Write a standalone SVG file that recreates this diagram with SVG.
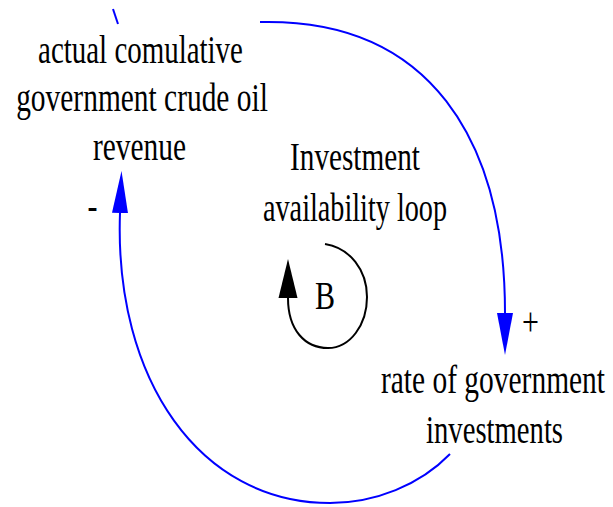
<svg xmlns="http://www.w3.org/2000/svg" width="613" height="507" viewBox="0 0 613 507">
<style>
text{font-family:'Liberation Serif','Times New Roman',serif;font-size:40px;fill:#000;text-anchor:middle}
.link{fill:none;stroke:#0000ff;stroke-width:2}
.loop{fill:none;stroke:#000;stroke-width:2}
</style>
<defs>
<marker id="ab" markerUnits="userSpaceOnUse" markerWidth="44" markerHeight="20" viewBox="0 -10 44 20" refX="0" refY="0" orient="auto">
<path d="M0,-8 L42,0 L0,8 Z" fill="#0000ff"/>
</marker>
<marker id="ak" markerUnits="userSpaceOnUse" markerWidth="42" markerHeight="22" viewBox="0 -11 42 22" refX="0" refY="0" orient="auto">
<path d="M0,-9.5 L39,0 L0,9.5 Z" fill="#000"/>
</marker>
</defs>
<g id="connectors">
<path class="link" d="M113,9 L118,24"/>
<path class="link" d="M260,22 C430,18 505,140 505,313" marker-end="url(#ab)"/>
<path class="link" d="M450,454 C420,485 375,503 330,503 C200,503 114,380 120,213" marker-end="url(#ab)"/>
</g>
<g id="node-revenue">
<text transform="translate(140.5,63) scale(0.704,1)" textLength="291" lengthAdjust="spacingAndGlyphs">actual comulative</text>
<text transform="translate(142,111) scale(0.736,1)" textLength="342" lengthAdjust="spacingAndGlyphs">government crude oil</text>
<text transform="translate(139.5,160) scale(0.735,1)" textLength="126.6" lengthAdjust="spacingAndGlyphs">revenue</text>
</g>
<g id="node-investments">
<text transform="translate(493,393) scale(0.736,1)" textLength="304.4" lengthAdjust="spacingAndGlyphs">rate of government</text>
<text transform="translate(494.5,443) scale(0.717,1)" textLength="191.1" lengthAdjust="spacingAndGlyphs">investments</text>
</g>
<g id="loop-label">
<text transform="translate(355,170) scale(0.731,1)" textLength="177.8" lengthAdjust="spacingAndGlyphs">Investment</text>
<text transform="translate(355,221) scale(0.705,1)" textLength="261" lengthAdjust="spacingAndGlyphs">availability loop</text>
</g>
<g id="loop-symbol">
<path class="loop" d="M325,244 C350,248 367,270 367,297 C367,325 350,348 328,348 C305,348 288,330 288,298" marker-end="url(#ak)"/>
<text transform="translate(325,309) scale(0.75,1)" textLength="26.7" lengthAdjust="spacingAndGlyphs">B</text>
</g>
<g id="polarities">
<text transform="translate(92.5,219) scale(0.75,1)">-</text>
<text transform="translate(530.5,335) scale(0.75,1)">+</text>
</g>
</svg>
